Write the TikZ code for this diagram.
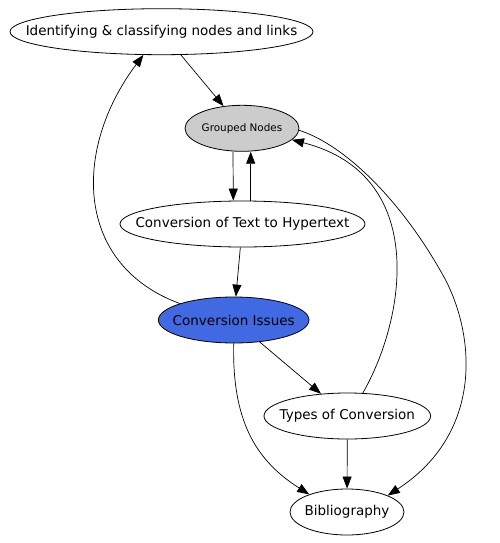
\documentclass[tikz,border=0pt]{standalone}
\usepackage{fontspec}
\setmainfont{DejaVu Sans}
\usetikzlibrary{shapes.geometric,arrows.meta}
\definecolor{gngray}{HTML}{CCCCCC}
\definecolor{ciblue}{HTML}{4169E1}
\newcommand{\zlabel}[1]{\makebox[0pt]{#1}}
\tikzset{
  gnode/.style={draw=black, line width=0.8pt, ellipse, inner sep=0pt, minimum height=46pt, font=\fontsize{13.5}{15}\selectfont},
  edge/.style={draw=black, line width=0.7pt, -{Triangle[length=12pt,width=9pt]}},
}
\begin{document}
\begin{tikzpicture}[x=1pt,y=-1pt]
\useasboundingbox (0,0) rectangle (500,543);
\node[gnode, minimum width=303pt] (id) at (161.5,31.7) {\zlabel{Identifying \& classifying nodes and links}};
\node[gnode, minimum width=114pt, fill=gngray, font=\fontsize{10.4}{12}\selectfont] (gn) at (242,128.3) {\zlabel{Grouped Nodes}};
\node[gnode, minimum width=245pt] (ct) at (242.5,224) {\zlabel{Conversion of Text to Hypertext}};
\node[gnode, minimum width=150.6pt, fill=ciblue] (ci) at (233.7,320) {\zlabel{Conversion Issues}};
\node[gnode, minimum width=166.6pt] (ty) at (347.3,416) {\zlabel{Types of Conversion}};
\node[gnode, minimum width=114pt] (bib) at (347,512) {\zlabel{Bibliography}};

\draw[edge] (id) -- (gn);
\draw[edge] ([xshift=-9pt]gn.south) -- ([xshift=-9.2pt]ct.north);
\draw[edge] ([xshift=8.2pt]ct.north) -- ([xshift=8.7pt]gn.south);
\draw[edge] (ct) -- (ci);
\draw[edge] (ci.163) .. controls (75,265) and (72,150) .. (id.232);
\draw[edge] (ci) -- (ty);
\draw[edge] (ci.south) .. controls (232,420) and (255,460) .. (bib.155);
\draw[edge] (ty.56) .. controls (405,320) and (430,175) .. (gn.-13);
\draw[edge] (gn.-2) .. controls (345,145) and (400,200) .. (440,270) .. controls (474,326) and (488,430) .. (bib.22);
\draw[edge] (ty) -- (bib);
\end{tikzpicture}
\end{document}
